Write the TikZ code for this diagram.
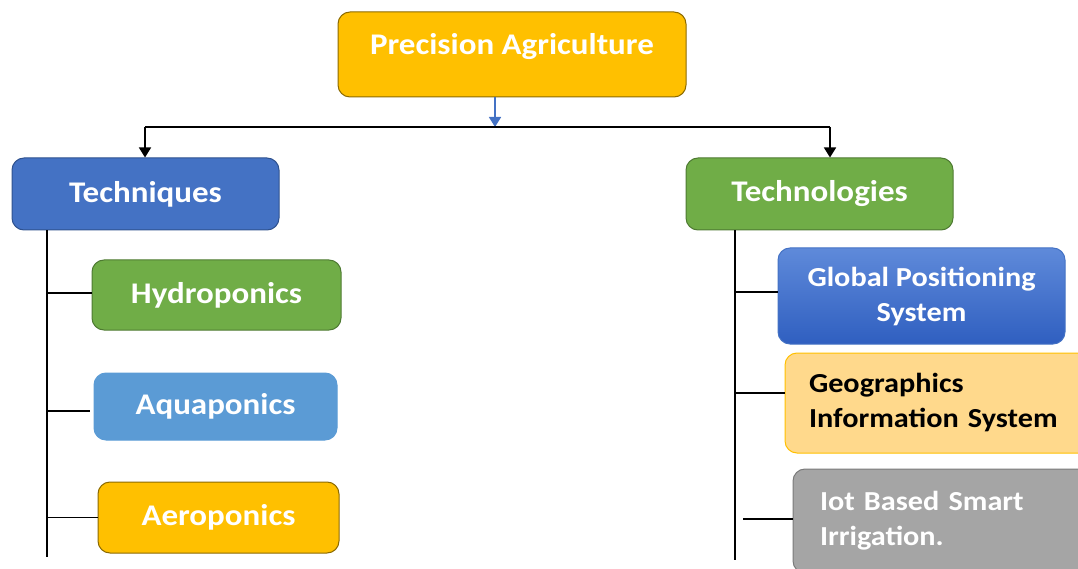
\documentclass[tikz,border=0pt]{standalone}
\usepackage{fontspec}
\setmainfont{Carlito}[FakeStretch=1.1]
\usetikzlibrary{arrows.meta}
\definecolor{gold}{HTML}{FFC000}
\definecolor{goldline}{HTML}{8C6A00}
\definecolor{tblue}{HTML}{4472C4}
\definecolor{tblueline}{HTML}{2F528F}
\definecolor{tgreen}{HTML}{70AD47}
\definecolor{tgreenline}{HTML}{4E7A32}
\definecolor{lblue}{HTML}{5B9BD5}
\definecolor{gpstop}{HTML}{5F8ADA}
\definecolor{gpsbot}{HTML}{2F5FC0}
\definecolor{gisfill}{HTML}{FFD98C}
\definecolor{gray1}{HTML}{A5A5A5}
\definecolor{grayline}{HTML}{7A7A7A}
\tikzset{
  box/.style={rounded corners=12pt, inner sep=0pt, font=\fontsize{30}{35}\selectfont\bfseries, text=white, align=center, line width=1pt},
  rbox/.style={box, font=\fontsize{27.5}{35}\selectfont\bfseries},
  conn/.style={line width=1.6pt, black},
  tip/.style={-{Triangle[length=10pt,width=12pt]}},
}
\begin{document}
\begin{tikzpicture}[x=1pt,y=-1pt]
\useasboundingbox (0,0) rectangle (1078,569);
\clip (0,0) rectangle (1078,569);
% top
\node[box, fill=gold, draw=goldline, minimum width=348pt, minimum height=85pt, text height=20pt, text depth=19pt] (pa) at (512,54.5) {Precision Agriculture};
\node[box, fill=tblue, draw=tblueline, minimum width=267pt, minimum height=72pt] (tq) at (145.5,194) {Techniques};
\node[box, fill=tgreen, draw=tgreenline, minimum width=267pt, minimum height=72pt] (tl) at (819.5,194) {Technologies};
% left column
\node[box, fill=tgreen, draw=tgreenline, minimum width=249pt, minimum height=70pt] (hy) at (216.5,295) {Hydroponics};
\node[box, fill=lblue, draw=lblue, minimum width=243pt, minimum height=67pt] (aq) at (215.5,406.5) {Aquaponics};
\node[box, fill=gold, draw=goldline, minimum width=241pt, minimum height=71pt] (ae) at (218.5,517.5) {Aeroponics};
% right column
\node[rbox, top color=gpstop, bottom color=gpsbot, draw=tblue, minimum width=287pt, minimum height=96pt] (gps) at (921.5,296) {Global Positioning\\System};
\node[rbox, fill=gisfill, draw=gold, text=black, align=left, text width=270pt, inner xsep=24pt, minimum height=100pt] (gis) at (944,403) {Geographics\\Information System};
\node[rbox, fill=gray1, draw=grayline, align=left, text width=260pt, inner xsep=27pt, minimum height=104pt] (iot) at (950,521) {Iot Based Smart\\Irrigation.};
% connectors top
\coordinate (hub) at (495,127);
\coordinate (bl) at (145,127);
\coordinate (br) at (830,127);
\draw[line width=1.6pt, tblue, tip] (pa.south -| hub) -- (hub);
\draw[conn] (bl) -- (br);
\draw[conn, tip] (bl) -- (bl |- tq.north);
\draw[conn, tip] (br) -- (br |- tl.north);
% left trunk
\coordinate (lt) at (47,557);
\draw[conn] (tq.south -| lt) -- (lt);
\draw[conn] ([yshift=2pt]hy.west -| lt) -- ([yshift=2pt]hy.west);
\draw[conn] ([yshift=-4.5pt]aq.west -| lt) -- ([xshift=-4pt,yshift=-4.5pt]aq.west);
\draw[conn] (ae.west -| lt) -- (ae.west);
% right trunk
\coordinate (rt) at (735,560);
\coordinate (rb) at (743,519);
\draw[conn] (tl.south -| rt) -- (rt);
\draw[conn] ([yshift=4pt]gps.west -| rt) -- ([yshift=4pt]gps.west);
\draw[conn] ([yshift=10pt]gis.west -| rt) -- ([yshift=10pt]gis.west);
\draw[conn] (rb) -- (rb -| iot.west);
\end{tikzpicture}
\end{document}
